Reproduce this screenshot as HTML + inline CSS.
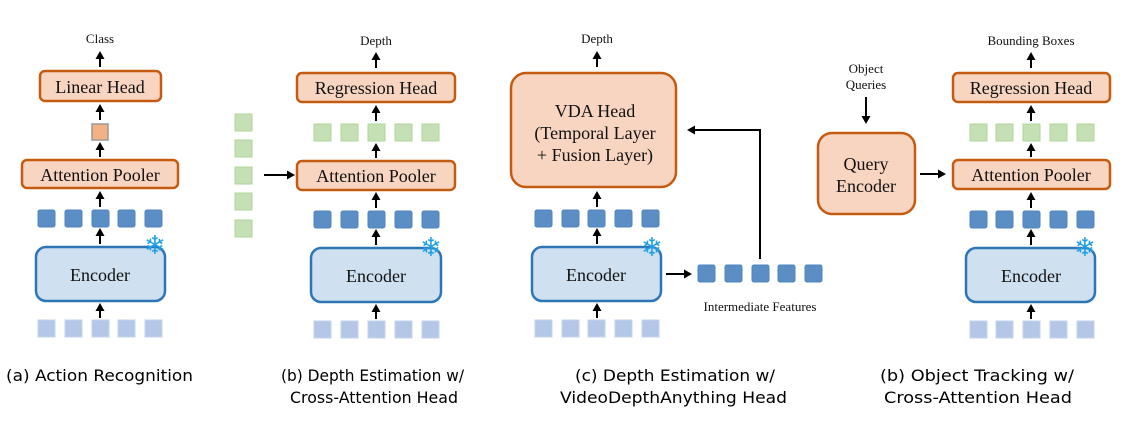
<!DOCTYPE html>
<html><head><meta charset="utf-8"><style>
html,body{margin:0;padding:0;background:#fff;}
svg{display:block;}
.t{font-family:"Liberation Serif",serif;fill:#111;}
.c{font-family:"DejaVu Sans","Liberation Sans",sans-serif;fill:#000;font-size:16px;}
.ob{fill:#f8d5c0;stroke:#c55a11;stroke-width:2.5;}
.en{fill:#cfe0f1;stroke:#2e75b6;stroke-width:2.5;}
.b{fill:#5b8ec4;stroke:#4f84bd;stroke-width:1;}
.l{fill:#b4c7e7;stroke:#c3d3ee;stroke-width:1;}
.g{fill:#c5e0b4;stroke:#b0d69a;stroke-width:1;}
.a{stroke:#000;stroke-width:2;fill:none;marker-end:url(#ah);}
.sf{font-family:"DejaVu Sans",sans-serif;fill:#1fa0e6;font-size:26px;}
</style></head><body>
<svg width="1142" height="424" viewBox="0 0 1142 424" xmlns="http://www.w3.org/2000/svg">
<defs><marker id="ah" markerWidth="5" markerHeight="5" refX="3" refY="2.25" orient="auto" markerUnits="strokeWidth"><path d="M0,0 L4,2.25 L0,4.5 z" fill="#000"/></marker></defs>

<!-- Panel a -->
<text class="t" x="100" y="43" font-size="13" text-anchor="middle">Class</text>
<line class="a" x1="100" y1="67" x2="100" y2="53"/>
<rect class="ob" x="40" y="71" width="121" height="30" rx="5"/>
<text class="t" x="100" y="93" font-size="18" text-anchor="middle">Linear Head</text>
<line class="a" x1="100" y1="120" x2="100" y2="106"/>
<rect x="92" y="124" width="16" height="16" fill="#f4b183" stroke="#999" stroke-width="1.5"/>
<line class="a" x1="100" y1="157" x2="100" y2="144"/>
<rect class="ob" x="22" y="160" width="156" height="28" rx="5"/>
<text class="t" x="100" y="181" font-size="18" text-anchor="middle">Attention Pooler</text>
<line class="a" x1="100" y1="207" x2="100" y2="193"/>
<rect class="b" x="38" y="210" width="17" height="17" rx="2"/><rect class="b" x="65" y="210" width="17" height="17" rx="2"/><rect class="b" x="92" y="210" width="17" height="17" rx="2"/><rect class="b" x="118" y="210" width="17" height="17" rx="2"/><rect class="b" x="145" y="210" width="17" height="17" rx="2"/>
<line class="a" x1="100" y1="244" x2="100" y2="230"/>
<rect class="en" x="36" y="247" width="129" height="54" rx="10"/>
<text class="t" x="100" y="281" font-size="18" text-anchor="middle">Encoder</text>
<text class="sf" x="155" y="254" text-anchor="middle">❄</text>
<line class="a" x1="100" y1="318" x2="100" y2="305"/>
<rect class="l" x="38" y="320" width="17" height="17"/><rect class="l" x="65" y="320" width="17" height="17"/><rect class="l" x="92" y="320" width="17" height="17"/><rect class="l" x="118" y="320" width="17" height="17"/><rect class="l" x="145" y="320" width="17" height="17"/>

<!-- Panel b -->
<rect class="g" x="235" y="114" width="17" height="17"/><rect class="g" x="235" y="140" width="17" height="17"/><rect class="g" x="235" y="167" width="17" height="17"/><rect class="g" x="235" y="193" width="17" height="17"/><rect class="g" x="235" y="220" width="17" height="17"/>
<line class="a" x1="264" y1="175" x2="293" y2="175"/>
<text class="t" x="376" y="45" font-size="13" text-anchor="middle">Depth</text>
<line class="a" x1="376" y1="68" x2="376" y2="54"/>
<rect class="ob" x="297" y="73" width="158" height="29" rx="5"/>
<text class="t" x="376" y="94" font-size="18" text-anchor="middle">Regression Head</text>
<line class="a" x1="376" y1="121" x2="376" y2="107"/>
<rect class="g" x="314" y="124" width="17" height="17"/><rect class="g" x="341" y="124" width="17" height="17"/><rect class="g" x="368" y="124" width="17" height="17"/><rect class="g" x="395" y="124" width="17" height="17"/><rect class="g" x="422" y="124" width="17" height="17"/>
<line class="a" x1="376" y1="158" x2="376" y2="145"/>
<rect class="ob" x="297" y="161" width="158" height="29" rx="5"/>
<text class="t" x="376" y="182" font-size="18" text-anchor="middle">Attention Pooler</text>
<line class="a" x1="376" y1="208" x2="376" y2="194"/>
<rect class="b" x="314" y="211" width="17" height="17" rx="2"/><rect class="b" x="341" y="211" width="17" height="17" rx="2"/><rect class="b" x="368" y="211" width="17" height="17" rx="2"/><rect class="b" x="395" y="211" width="17" height="17" rx="2"/><rect class="b" x="422" y="211" width="17" height="17" rx="2"/>
<line class="a" x1="376" y1="245" x2="376" y2="231"/>
<rect class="en" x="311" y="248" width="130" height="54" rx="10"/>
<text class="t" x="376" y="282" font-size="18" text-anchor="middle">Encoder</text>
<text class="sf" x="431" y="256" text-anchor="middle">❄</text>
<line class="a" x1="376" y1="319" x2="376" y2="306"/>
<rect class="l" x="314" y="321" width="17" height="17"/><rect class="l" x="341" y="321" width="17" height="17"/><rect class="l" x="368" y="321" width="17" height="17"/><rect class="l" x="395" y="321" width="17" height="17"/><rect class="l" x="422" y="321" width="17" height="17"/>

<!-- Panel c -->
<text class="t" x="597" y="43" font-size="13" text-anchor="middle">Depth</text>
<line class="a" x1="597" y1="67" x2="597" y2="53"/>
<rect class="ob" x="511" y="73" width="165" height="114" rx="15"/>
<text class="t" x="595" y="117" font-size="18" text-anchor="middle">VDA Head</text>
<text class="t" x="595" y="139" font-size="18" text-anchor="middle">(Temporal Layer</text>
<text class="t" x="595" y="161" font-size="18" text-anchor="middle">+ Fusion Layer)</text>
<line class="a" x1="597" y1="207" x2="597" y2="193"/>
<rect class="b" x="535" y="210" width="17" height="17" rx="2"/><rect class="b" x="562" y="210" width="17" height="17" rx="2"/><rect class="b" x="588" y="210" width="17" height="17" rx="2"/><rect class="b" x="615" y="210" width="17" height="17" rx="2"/><rect class="b" x="642" y="210" width="17" height="17" rx="2"/>
<line class="a" x1="597" y1="244" x2="597" y2="230"/>
<rect class="en" x="532" y="247" width="129" height="54" rx="10"/>
<text class="t" x="596" y="281" font-size="18" text-anchor="middle">Encoder</text>
<text class="sf" x="652" y="256" text-anchor="middle">❄</text>
<line class="a" x1="597" y1="318" x2="597" y2="305"/>
<rect class="l" x="535" y="320" width="17" height="17"/><rect class="l" x="562" y="320" width="17" height="17"/><rect class="l" x="588" y="320" width="17" height="17"/><rect class="l" x="615" y="320" width="17" height="17"/><rect class="l" x="642" y="320" width="17" height="17"/>
<line class="a" x1="666" y1="274" x2="690" y2="274"/>
<rect class="b" x="698" y="265" width="17" height="17" rx="2"/><rect class="b" x="725" y="265" width="17" height="17" rx="2"/><rect class="b" x="752" y="265" width="17" height="17" rx="2"/><rect class="b" x="778" y="265" width="17" height="17" rx="2"/><rect class="b" x="805" y="265" width="17" height="17" rx="2"/>
<polyline class="a" points="760,259 760,130 689,130"/>
<text class="t" x="760" y="311" font-size="13" text-anchor="middle">Intermediate Features</text>

<!-- Panel d -->
<text class="t" x="866" y="73" font-size="13" text-anchor="middle">Object</text>
<text class="t" x="866" y="89" font-size="13" text-anchor="middle">Queries</text>
<line class="a" x1="866" y1="97" x2="866" y2="122"/>
<rect class="ob" x="818" y="133" width="97" height="81" rx="14"/>
<text class="t" x="866" y="170" font-size="18" text-anchor="middle">Query</text>
<text class="t" x="866" y="192" font-size="18" text-anchor="middle">Encoder</text>
<line class="a" x1="920" y1="174" x2="944" y2="174"/>
<text class="t" x="1031" y="45" font-size="13" text-anchor="middle">Bounding Boxes</text>
<line class="a" x1="1031" y1="68" x2="1031" y2="54"/>
<rect class="ob" x="953" y="73" width="157" height="29" rx="5"/>
<text class="t" x="1031" y="94" font-size="18" text-anchor="middle">Regression Head</text>
<line class="a" x1="1031" y1="121" x2="1031" y2="107"/>
<rect class="g" x="970" y="124" width="17" height="17"/><rect class="g" x="996" y="124" width="17" height="17"/><rect class="g" x="1023" y="124" width="17" height="17"/><rect class="g" x="1050" y="124" width="17" height="17"/><rect class="g" x="1077" y="124" width="17" height="17"/>
<line class="a" x1="1031" y1="157" x2="1031" y2="145"/>
<rect class="ob" x="953" y="160" width="157" height="29" rx="5"/>
<text class="t" x="1031" y="181" font-size="18" text-anchor="middle">Attention Pooler</text>
<line class="a" x1="1031" y1="208" x2="1031" y2="194"/>
<rect class="b" x="970" y="211" width="17" height="17" rx="2"/><rect class="b" x="996" y="211" width="17" height="17" rx="2"/><rect class="b" x="1023" y="211" width="17" height="17" rx="2"/><rect class="b" x="1050" y="211" width="17" height="17" rx="2"/><rect class="b" x="1077" y="211" width="17" height="17" rx="2"/>
<line class="a" x1="1031" y1="245" x2="1031" y2="231"/>
<rect class="en" x="966" y="248" width="129" height="54" rx="10"/>
<text class="t" x="1031" y="282" font-size="18" text-anchor="middle">Encoder</text>
<text class="sf" x="1085" y="256" text-anchor="middle">❄</text>
<line class="a" x1="1031" y1="319" x2="1031" y2="306"/>
<rect class="l" x="970" y="321" width="17" height="17"/><rect class="l" x="996" y="321" width="17" height="17"/><rect class="l" x="1023" y="321" width="17" height="17"/><rect class="l" x="1050" y="321" width="17" height="17"/><rect class="l" x="1077" y="321" width="17" height="17"/>

<!-- Captions -->
<text class="c" x="6" y="381" textLength="187" lengthAdjust="spacingAndGlyphs">(a) Action Recognition</text>
<text class="c" x="281" y="381" textLength="183" lengthAdjust="spacingAndGlyphs">(b) Depth Estimation w/</text>
<text class="c" x="290" y="403" textLength="168" lengthAdjust="spacingAndGlyphs">Cross-Attention Head</text>
<text class="c" x="575" y="381" textLength="200" lengthAdjust="spacingAndGlyphs">(c) Depth Estimation w/</text>
<text class="c" x="560" y="403" textLength="227" lengthAdjust="spacingAndGlyphs">VideoDepthAnything Head</text>
<text class="c" x="880" y="381" textLength="194" lengthAdjust="spacingAndGlyphs">(b) Object Tracking w/</text>
<text class="c" x="884" y="403" textLength="188" lengthAdjust="spacingAndGlyphs">Cross-Attention Head</text>
</svg>
</body></html>
